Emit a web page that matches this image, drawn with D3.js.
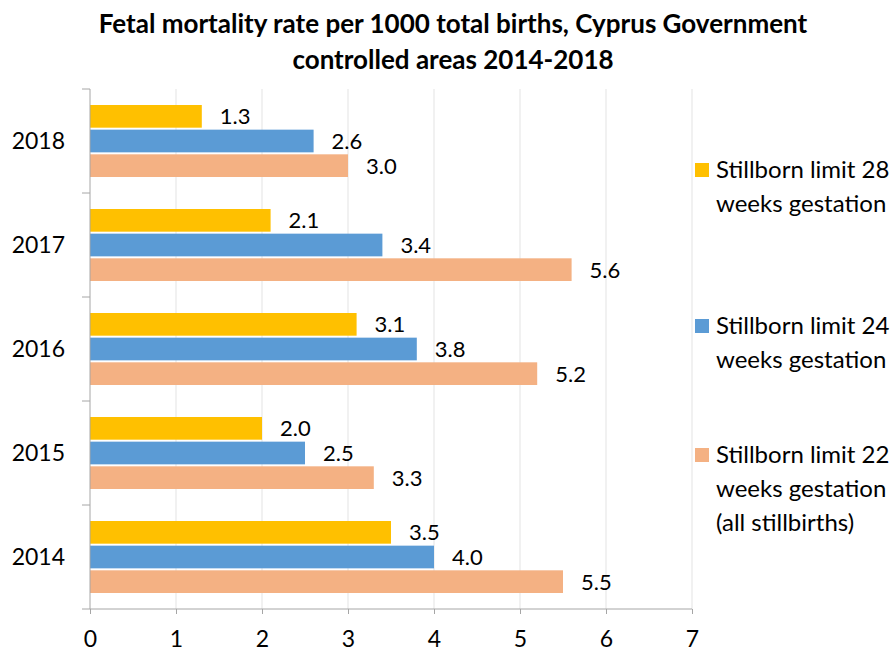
<!DOCTYPE html>
<html>
<head>
<meta charset="utf-8">
<script src="https://cdn.jsdelivr.net/npm/d3@7"></script>
<style>
body { margin: 0; background: #fff; }
svg { font-family: Lato, "Open Sans", sans-serif; }
.title { font-weight: bold; font-size: 26px; fill: #000; }
.val { font-size: 22px; fill: #000; }
.axis text { font-size: 23px; fill: #000; font-family: Lato, "Open Sans", sans-serif; }
.axis path, .axis line { stroke: #a6a6a6; }
.legend text { font-size: 24px; fill: #000; }
</style>
</head>
<body>
<svg width="896" height="653"></svg>
<script>
var years = ['2018', '2017', '2016', '2015', '2014'];
var seriesNames = ['Stillborn limit 28 weeks gestation', 'Stillborn limit 24 weeks gestation', 'Stillborn limit 22 weeks gestation (all stillbirths)'];
var limit28 = [1.3, 2.1, 3.1, 2.0, 3.5];
var limit24 = [2.6, 3.4, 3.8, 2.5, 4.0];
var limit22 = [3.0, 5.6, 5.2, 3.3, 5.5];
var colors = ['#FFC000', '#5B9BD5', '#F4B183'];
var xTicks = [0, 1, 2, 3, 4, 5, 6, 7];

var svg = d3.select('svg');
var plotL = 90, plotR = 692, plotT = 89, plotB = 609;

var x = d3.scaleLinear().domain([0, 7]).range([plotL, plotR]);
var y = d3.scaleBand().domain(years).range([plotT, plotB]);
var inner = d3.scaleBand().domain([0, 1, 2]).range([16, 88]).paddingInner(0.08);

// title
svg.append('text').attr('class', 'title').attr('x', 453).attr('y', 33).attr('text-anchor', 'middle')
	.text('Fetal mortality rate per 1000 total births, Cyprus Government');
svg.append('text').attr('class', 'title').attr('x', 453).attr('y', 69).attr('text-anchor', 'middle')
	.text('controlled areas 2014-2018');

// gridlines
svg.append('g').selectAll('line').data(xTicks.slice(1)).enter().append('line')
	.attr('x1', function(d){ return x(d); }).attr('x2', function(d){ return x(d); })
	.attr('y1', plotT).attr('y2', plotB)
	.attr('stroke', '#e3e3e3').attr('stroke-width', 1);

var data = years.map(function(yr, i){
	return { year: yr, vals: [limit28[i], limit24[i], limit22[i]] };
});

var groups = svg.append('g').selectAll('g').data(data).enter().append('g')
	.attr('transform', function(d){ return 'translate(0,' + y(d.year) + ')'; });

groups.selectAll('rect').data(function(d){ return d.vals; }).enter().append('rect')
	.attr('x', x(0))
	.attr('y', function(d, i){ return inner(i); })
	.attr('width', function(d){ return x(d) - x(0); })
	.attr('height', inner.bandwidth())
	.attr('fill', function(d, i){ return colors[i]; });

groups.selectAll('text').data(function(d){ return d.vals; }).enter().append('text')
	.attr('class', 'val')
	.attr('x', function(d){ return x(d) + 18; })
	.attr('y', function(d, i){ return inner(i) + inner.bandwidth() / 2 + 8; })
	.text(function(d){ return d.toFixed(1); });

// axes
var xAxis = svg.append('g').attr('class', 'axis').attr('transform', 'translate(0,' + plotB + ')')
	.call(d3.axisBottom(x).tickValues(xTicks).tickSize(5).tickPadding(17).tickFormat(d3.format('d')));
xAxis.select('.domain').attr('d', 'M' + plotL + ',0H' + plotR);

var yAxis = svg.append('g').attr('class', 'axis').attr('transform', 'translate(' + plotL + ',0)')
	.call(d3.axisLeft(y).tickSize(0).tickPadding(25));
yAxis.selectAll('text').attr('dy', '0.35em');
yAxis.select('.domain').attr('d', 'M0,' + plotT + 'V' + plotB);
yAxis.selectAll('.bt').data(years.concat(['end'])).enter().append('line')
	.attr('x1', -8).attr('x2', 0)
	.attr('y1', function(d, i){ return plotT + i * y.step(); })
	.attr('y2', function(d, i){ return plotT + i * y.step(); })
	.attr('stroke', '#a6a6a6');

// legend
var legendLines = [
	['Stillborn limit 28', 'weeks gestation'],
	['Stillborn limit 24', 'weeks gestation'],
	['Stillborn limit 22', 'weeks gestation', '(all stillbirths)']
];
var legendY = [178, 334, 463];
var lg = svg.append('g').attr('class', 'legend');
legendLines.forEach(function(lines, i){
	lg.append('rect').attr('x', 695).attr('y', legendY[i] - 15).attr('width', 14).attr('height', 14)
		.attr('fill', colors[i]);
	lines.forEach(function(t, j){
		lg.append('text').attr('x', 716).attr('y', legendY[i] + j * 34).text(t);
	});
});
</script>
</body>
</html>
